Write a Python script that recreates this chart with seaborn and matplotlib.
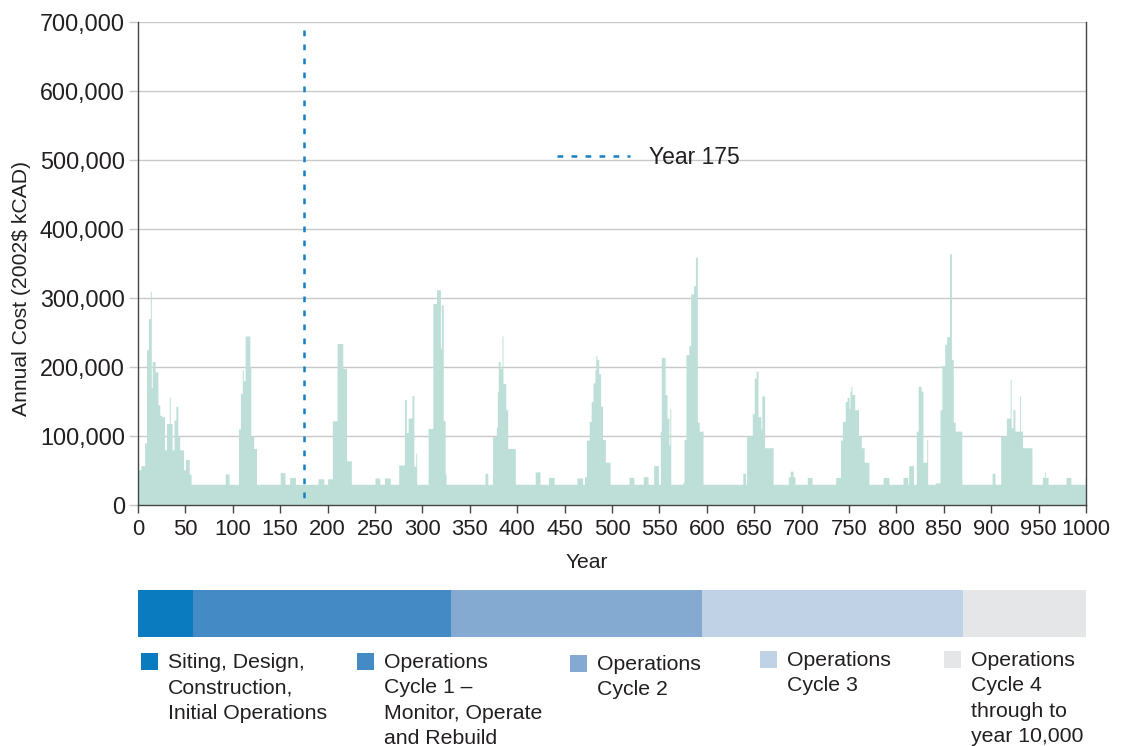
import numpy as np
import pandas as pd
import matplotlib
matplotlib.use("Agg")
import matplotlib.pyplot as plt
from matplotlib.patches import Rectangle
from matplotlib.lines import Line2D
from matplotlib.ticker import FuncFormatter
import seaborn as sns

# ---------------------------------------------------------------------------
# Annual cost (2002$ kCAD). Every year sits at the base level unless it falls
# inside one of the elevated periods below: (first year, end year, cost in k).
# ---------------------------------------------------------------------------
BASE_COST_K = 30

siting_periods = [
    (0, 3, 51), (3, 7, 57), (7, 9, 90), (9, 11, 225), (11, 13, 270),
    (13, 14, 310), (14, 15, 170), (15, 18, 208), (18, 21, 193), (21, 23, 145),
    (23, 25, 130), (25, 28, 128), (28, 30, 80), (30, 33, 118), (33, 34, 156),
    (34, 36, 118), (36, 38, 80), (38, 40, 123), (40, 42, 143), (42, 44, 99),
    (44, 48, 80), (48, 50, 51), (50, 54, 66), (54, 56, 45),
]

cycle1_periods = [
    (92, 96, 45),
    (106, 108, 110), (108, 110, 162), (110, 111, 196), (111, 113, 180),
    (113, 118, 245), (118, 119, 200), (119, 122, 100), (122, 125, 82),
    (150, 155, 47), (160, 166, 40), (190, 196, 38),
    (200, 205, 38), (205, 210, 122), (210, 216, 234), (216, 220, 198),
    (220, 225, 64),
    (250, 255, 39), (260, 266, 39),
    (275, 281, 58), (281, 283, 153), (283, 285, 105), (285, 289, 126),
    (289, 291, 159), (291, 293, 56), (293, 294, 75),
    (306, 311, 111), (311, 315, 292), (315, 319, 312), (319, 320, 227),
    (320, 322, 290), (322, 324, 122), (324, 325, 45),
]

cycle2_periods = [
    (366, 369, 46),
    (374, 378, 99), (378, 379, 113), (379, 380, 164), (380, 382, 208),
    (382, 384, 198), (384, 385, 245), (385, 388, 176), (388, 390, 138),
    (390, 398, 82),
    (419, 424, 48), (433, 439, 40), (463, 469, 39),
    (471, 473, 41), (473, 476, 94), (476, 478, 121), (478, 480, 150),
    (480, 482, 177), (482, 483, 196), (483, 484, 217), (484, 486, 211),
    (486, 488, 190), (488, 490, 143), (490, 493, 95), (493, 498, 62),
    (518, 523, 40), (533, 538, 41), (544, 549, 57),
    (551, 552, 107), (552, 556, 214), (556, 558, 160), (558, 560, 126),
    (560, 561, 87), (561, 562, 139),
    (575, 576, 33), (576, 578, 95), (578, 581, 218), (581, 583, 231),
    (583, 586, 306), (586, 588, 318), (588, 590, 359), (590, 592, 120),
    (592, 596, 107),
]

cycle3_periods = [
    (638, 641, 46),
    (642, 648, 100), (648, 650, 132), (650, 652, 184), (652, 654, 194),
    (654, 657, 128), (657, 658, 110), (658, 661, 158), (661, 670, 83),
    (686, 688, 41), (688, 691, 49), (691, 693, 41),
    (706, 711, 40),
    (736, 741, 40), (741, 743, 94), (743, 746, 121), (746, 748, 150),
    (748, 750, 156), (750, 751, 140), (751, 752, 165), (752, 753, 172),
    (753, 756, 160), (756, 760, 138), (760, 763, 100), (763, 766, 83),
    (766, 771, 62),
    (786, 792, 40), (807, 812, 40),
    (813, 818, 57), (821, 823, 107), (823, 826, 172), (826, 828, 165),
    (828, 832, 62), (832, 833, 95),
    (841, 846, 32), (846, 848, 138), (848, 851, 202), (851, 853, 233),
    (853, 856, 244), (856, 858, 364), (858, 860, 211), (860, 862, 120),
    (862, 869, 107),
]

cycle4_periods = [
    (901, 904, 46),
    (910, 916, 100), (916, 920, 126), (920, 921, 182), (921, 923, 112),
    (923, 925, 138), (925, 930, 107), (930, 931, 158), (931, 933, 107),
    (933, 943, 83),
    (954, 956, 40), (956, 957, 48), (957, 960, 40),
    (979, 984, 40), (999, 1000, 40),
]

# Project phases shown in the band under the chart
phase_labels = [
    "Siting, Design,\nConstruction,\nInitial Operations",
    "Operations\nCycle 1 \u2013\nMonitor, Operate\nand Rebuild",
    "Operations\nCycle 2",
    "Operations\nCycle 3",
    "Operations\nCycle 4\nthrough to\nyear 10,000",
]
phase_start = [0, 58, 330, 595, 870]
phase_end = [58, 330, 595, 870, 1000]

y_ticks = [0, 100_000, 200_000, 300_000, 400_000, 500_000, 600_000, 700_000]
x_ticks = list(range(0, 1001, 50))
marker_year = 175
marker_top = 688_000

# ---------------------------------------------------------------------------
years = np.arange(0, 1000)
annual_cost = np.full(years.size, BASE_COST_K * 1000.0)
for start, end, cost_k in (siting_periods + cycle1_periods + cycle2_periods
                           + cycle3_periods + cycle4_periods):
    annual_cost[start:end] = cost_k * 1000.0
costs = pd.DataFrame({"Year": years, "Cost": annual_cost})

# Styling
FILL = "#bddfd7"
LINE_BLUE = "#1580c3"
TEXT = "#231f20"
GRID = "#c9c9c9"
AXIS = "#444444"
phase_colors = ["#0a7bbf", "#448bc6", "#85aad2", "#bfd2e6", "#e5e6e8"]

sns.set_theme(style="white")
plt.rcParams["font.family"] = ["Liberation Sans", "DejaVu Sans"]
plt.rcParams["text.color"] = TEXT
plt.rcParams["axes.labelcolor"] = TEXT
plt.rcParams["xtick.color"] = TEXT
plt.rcParams["ytick.color"] = TEXT

W, H = 1126, 746
fig = plt.figure(figsize=(W / 100, H / 100), dpi=100)
ax = fig.add_axes([138 / W, 1 - 505 / H, 948 / W, 483 / H])

sns.histplot(
    data=costs, x="Year", weights="Cost", binwidth=1, binrange=(0, 1000),
    element="step", fill=True, color=FILL, alpha=1.0, linewidth=0, ax=ax,
)

ax.set_xlim(0, 1000)
ax.set_ylim(0, 700_000)
ax.set_xticks(x_ticks)
ax.set_yticks(y_ticks)
ax.yaxis.set_major_formatter(FuncFormatter(lambda v, _: f"{int(v):,}"))
ax.set_axisbelow(True)
ax.yaxis.grid(True, color=GRID, linewidth=1.0)
ax.xaxis.grid(False)

for side in ("left", "bottom", "right"):
    ax.spines[side].set_visible(True)
    ax.spines[side].set_color(AXIS)
    ax.spines[side].set_linewidth(1.0)
ax.spines["top"].set_visible(False)

ax.tick_params(axis="x", bottom=True, length=6, width=1, color=AXIS,
               labelsize=15.8, pad=4)
ax.tick_params(axis="y", left=True, length=6.5, width=1, color=GRID,
               labelsize=16.8, pad=3)
ax.yaxis.get_major_ticks()[0].tick1line.set_color(AXIS)

ax.set_xlabel("Year", fontsize=15.2)
ax.set_ylabel("Annual Cost (2002$ kCAD)", fontsize=15.2)
ax.xaxis.set_label_coords((587 - 138) / 948, (505 - 553) / 483)
ax.yaxis.set_label_coords((31 - 138) / 948, (505 - 288) / 483)

# Year 175 marker, dashed from the top down
ax.plot([marker_year, marker_year], [marker_top, 0], color=LINE_BLUE,
        linewidth=1.8, dashes=(2.3, 3.3))
handle = Line2D([], [], color=LINE_BLUE, linewidth=1.8, dashes=(2.3, 3.3))
ax.legend([handle], [f"Year {marker_year}"], loc="center left",
          bbox_to_anchor=((557 - 138) / 948, (505 - 158) / 483),
          frameon=False, fontsize=16.5, handlelength=3.2, handletextpad=0.8,
          borderpad=0, borderaxespad=0)

# Phase band
band = fig.add_axes([138 / W, 1 - 637 / H, 950 / W, 47 / H])
for s, e, c in zip(phase_start, phase_end, phase_colors):
    band.barh(0, e - s, left=s, height=1.0, color=c, linewidth=0)
band.set_xlim(0, 1002)
band.set_ylim(-0.5, 0.5)
band.axis("off")

# Phase legend
square_x = [141, 357, 570, 760, 944]
square_y = [653, 653, 655, 651, 651]
for lab, c, sx, sy in zip(phase_labels, phase_colors, square_x, square_y):
    fig.patches.append(Rectangle((sx / W, 1 - (sy + 17) / H), 17 / W, 17 / H,
                                 transform=fig.transFigure, color=c,
                                 linewidth=0))
    fig.text((sx + 27) / W, 1 - sy / H, lab, ha="left", va="top",
             fontsize=15.3, linespacing=1.42, color=TEXT)

fig.savefig("out.png", dpi=100)
